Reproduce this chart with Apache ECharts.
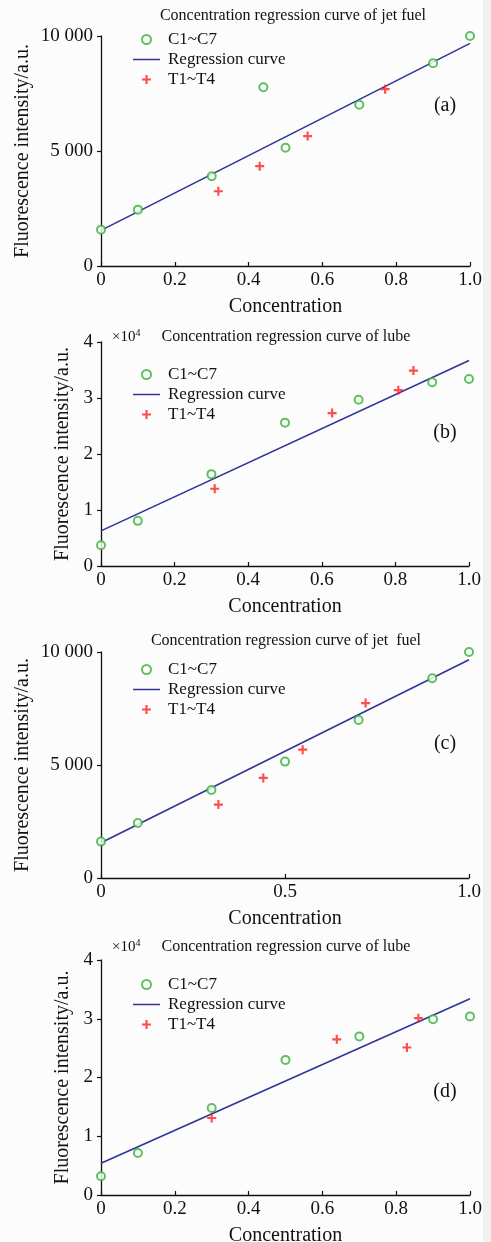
<!DOCTYPE html>
<html>
<head>
<meta charset="utf-8">
<title>Concentration regression curves</title>
<script src="https://cdn.jsdelivr.net/npm/echarts@6.0.0/dist/echarts.min.js"></script>
<style>
  html, body { margin: 0; padding: 0; background: #fcfcfc; }
  #chart { width: 491px; height: 1242px; }
</style>
</head>
<body>
<div id="chart"></div>
<script>
  // values (x = concentration, y = fluorescence intensity a.u.)
  var aCalibX = [0, 0.1, 0.3, 0.44, 0.5, 0.7, 0.9, 1.0]
  var aCalibY = [1580, 2450, 3900, 7770, 5140, 7010, 8820, 10000]
  var aTestX = [0.318, 0.43, 0.56, 0.77]
  var aTestY = [3250, 4340, 5650, 7690]
  var aFitY = [1550, 9680]

  var bCalibX = [0, 0.1, 0.3, 0.5, 0.7, 0.9, 1.0]
  var bCalibY = [3700, 8060, 16400, 25600, 29700, 32800, 33400]
  var bTestX = [0.309, 0.628, 0.808, 0.849]
  var bTestY = [13800, 27300, 31400, 34900]
  var bFitY = [6270, 36700]

  var cCalibX = [0, 0.1, 0.3, 0.5, 0.7, 0.9, 1.0]
  var cCalibY = [1610, 2430, 3890, 5150, 6990, 8840, 10000]
  var cTestX = [0.319, 0.441, 0.548, 0.719]
  var cTestY = [3250, 4430, 5680, 7740]
  var cFitY = [1560, 9660]

  var dCalibX = [0, 0.1, 0.3, 0.5, 0.7, 0.9, 1.0]
  var dCalibY = [3200, 7160, 14800, 23000, 27000, 29900, 30400]
  var dTestX = [0.3, 0.639, 0.829, 0.86]
  var dTestY = [13100, 26500, 25100, 30100]
  var dFitY = [5400, 33400]

  var fitX = [0, 1.0]

  var xLabelsFine = ['0', '0.2', '0.4', '0.6', '0.8', '1.0']
  var xLabelsHalf = ['0', '0.5', '1.0']
  var yLabelsJet = ['0', '5 000', '10 000']
  var yLabelsLube = ['0', '1', '2', '3', '4']

  var titles = [
    'Concentration regression curve of jet fuel',
    'Concentration regression curve of lube',
    'Concentration regression curve of jet  fuel',
    'Concentration regression curve of lube'
  ]
  var tags = ['(a)', '(b)', '(c)', '(d)']

  var FONT = '"Liberation Serif", "DejaVu Serif", serif'
  var INK = '#111'
  var GREEN = '#36b236'
  var RED = '#ff1f1f'
  var BLUE = '#30339a'
  var PLUS = 'path://M3.8,0H6.2V3.8H10V6.2H6.2V10H3.8V6.2H0V3.8H3.8Z'
  var DASH = 'path://M0,0H180V10H0Z'

  function pairs(xs, ys) {
    return xs.map(function (x, i) { return [x, ys[i]] })
  }

  // layout per panel
  var panels = [
    { grid: [101, 36, 369, 230], calib: pairs(aCalibX, aCalibY), test: pairs(aTestX, aTestY), fit: pairs(fitX, aFitY),
      xStep: 0.2, xLabels: xLabelsFine, yMax: 10000, yStep: 5000, yLabels: yLabelsJet, yGap: 68,
      titleX: 293, titleY: 8, legendY: 31, tagY: 106, times: false },
    { grid: [101, 342, 368, 224], calib: pairs(bCalibX, bCalibY), test: pairs(bTestX, bTestY), fit: pairs(fitX, bFitY),
      xStep: 0.2, xLabels: xLabelsFine, yMax: 40000, yStep: 10000, yLabels: yLabelsLube, yGap: 28,
      titleX: 286, titleY: 329, legendY: 366, tagY: 433, times: true },
    { grid: [101, 652, 368, 226], calib: pairs(cCalibX, cCalibY), test: pairs(cTestX, cTestY), fit: pairs(fitX, cFitY),
      xStep: 0.5, xLabels: xLabelsHalf, yMax: 10000, yStep: 5000, yLabels: yLabelsJet, yGap: 68,
      titleX: 286, titleY: 633, legendY: 661, tagY: 744, times: false },
    { grid: [101, 960, 369, 235], calib: pairs(dCalibX, dCalibY), test: pairs(dTestX, dTestY), fit: pairs(fitX, dFitY),
      xStep: 0.2, xLabels: xLabelsFine, yMax: 40000, yStep: 10000, yLabels: yLabelsLube, yGap: 28,
      titleX: 286, titleY: 939, legendY: 976, tagY: 1092, times: true }
  ]

  var option = {
    backgroundColor: '#fcfcfc',
    animation: false,
    title: [], legend: [], grid: [], xAxis: [], yAxis: [], series: [],
    graphic: [
      { type: 'rect', shape: { x: 483, y: 0, width: 8, height: 1242 }, style: { fill: '#f1f1f1' }, silent: true }
    ]
  }

  var axisLine = { show: true, onZero: false, lineStyle: { color: INK, width: 1.3 } }

  panels.forEach(function (p, i) {
    option.grid.push({
      left: p.grid[0], top: p.grid[1], width: p.grid[2], height: p.grid[3],
      containLabel: false, outerBoundsMode: 'none'
    })

    option.xAxis.push({
      type: 'value', gridIndex: i, min: 0, max: 1, interval: p.xStep,
      axisLine: axisLine,
      axisTick: { show: true, inside: true, length: 4, lineStyle: { color: INK, width: 1.2 } },
      splitLine: { show: false },
      axisLabel: {
        margin: 5, color: INK, fontFamily: FONT, fontSize: 19,
        formatter: (function (labels) { return function (v, idx) { return labels[idx] } })(p.xLabels)
      },
      name: 'Concentration', nameLocation: 'middle', nameGap: 31, nameMoveOverlap: false,
      nameTextStyle: { color: INK, fontFamily: FONT, fontSize: 20 }
    })

    option.yAxis.push({
      type: 'value', gridIndex: i, min: 0, max: p.yMax, interval: p.yStep,
      axisLine: axisLine,
      axisTick: { show: true, inside: false, length: 4, lineStyle: { color: INK, width: 1.2 } },
      splitLine: { show: false },
      axisLabel: {
        margin: 8, color: INK, fontFamily: FONT, fontSize: 19,
        formatter: (function (labels) { return function (v, idx) { return labels[idx] } })(p.yLabels)
      },
      name: 'Fluorescence intensity/a.u.', nameLocation: 'middle', nameGap: p.yGap, nameMoveOverlap: false,
      nameTextStyle: { color: INK, fontFamily: FONT, fontSize: 20 }
    })

    option.title.push({
      text: titles[i], left: p.titleX, top: p.titleY, textAlign: 'center', padding: 0,
      textStyle: { color: INK, fontFamily: FONT, fontSize: 16, fontWeight: 'normal' }
    })

    option.legend.push({
      orient: 'vertical', left: 133, top: p.legendY, padding: 0,
      itemWidth: 27, itemHeight: 9, itemGap: 3,
      data: [
        { name: 'C1~C7' },
        { name: 'Regression curve', icon: DASH, itemStyle: { color: BLUE } },
        { name: 'T1~T4' }
      ],
      textStyle: { color: INK, fontFamily: FONT, fontSize: 17, lineHeight: 15, padding: [0, 0, 0, 3] }
    })

    option.series.push({
      name: 'C1~C7', type: 'scatter', xAxisIndex: i, yAxisIndex: i, z: 3,
      symbol: 'emptyCircle', symbolSize: 8,
      itemStyle: { color: GREEN, borderColor: GREEN, borderWidth: 1.7 },
      data: p.calib
    })
    option.series.push({
      name: 'Regression curve', type: 'line', xAxisIndex: i, yAxisIndex: i, z: 2,
      symbol: 'none', lineStyle: { color: BLUE, width: 1.6 }, itemStyle: { color: BLUE },
      data: p.fit
    })
    option.series.push({
      name: 'T1~T4', type: 'scatter', xAxisIndex: i, yAxisIndex: i, z: 4,
      symbol: PLUS, symbolSize: 9,
      itemStyle: { color: RED },
      data: p.test
    })

    option.graphic.push({
      type: 'text', x: 445, y: p.tagY,
      style: { text: tags[i], fill: INK, font: '20px ' + FONT, textAlign: 'center', textVerticalAlign: 'middle' }
    })

    if (p.times) {
      option.graphic.push({
        type: 'text', x: 112, y: p.titleY + 8,
        style: {
          text: '\u00d710{s|4}', fill: INK, font: '15px ' + FONT, textVerticalAlign: 'middle',
          rich: { s: { fontSize: 10, fontFamily: FONT, fill: INK, verticalAlign: 'top', padding: [0, 0, 8, 0] } }
        }
      })
    }
  })

  var chart = echarts.init(document.getElementById('chart'))
  chart.setOption(option)
</script>
</body>
</html>
